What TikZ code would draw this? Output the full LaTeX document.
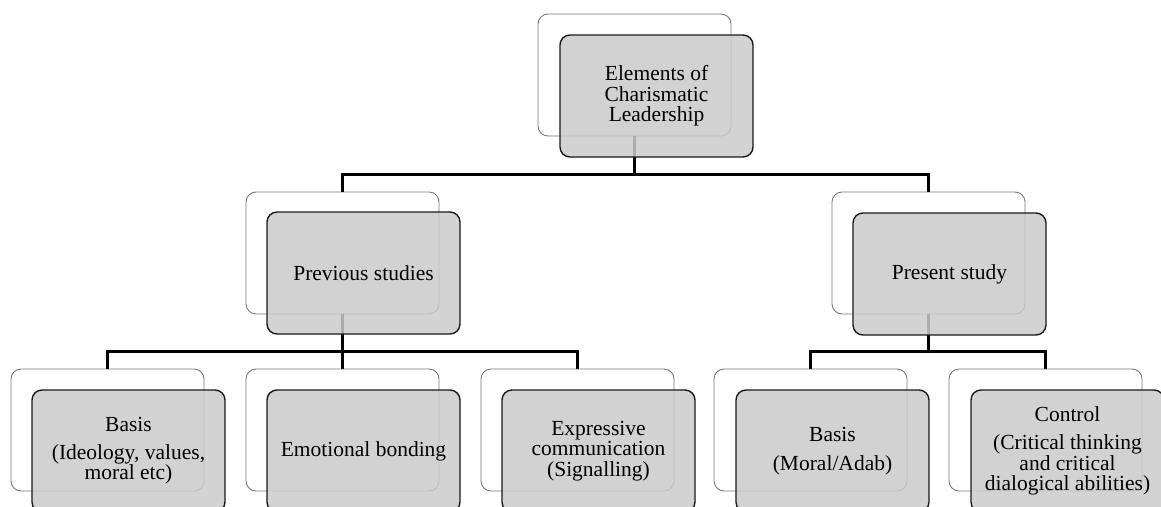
\documentclass[tikz,border=0pt]{standalone}
\usepackage{fontspec}
\setmainfont{Liberation Serif}
\definecolor{boxfill}{RGB}{203,203,203}
\definecolor{backline}{RGB}{120,120,120}
\tikzset{
  backbox/.style={draw=backline, line width=0.9pt, fill=white, rounded corners=10pt,
    minimum width=193pt, minimum height=122pt, anchor=north west, inner sep=0pt, outer sep=0pt},
  frontbox/.style={draw=black!90, line width=1.4pt, fill=boxfill, fill opacity=0.85, text opacity=1,
    rounded corners=10pt, minimum width=193pt, minimum height=122pt, anchor=north west,
    inner sep=0pt, outer sep=0pt, align=center, font=\fontsize{21.5}{20.5}\selectfont},
  conn/.style={draw=black, line width=2.5pt}
}
\begin{document}
\begin{tikzpicture}[x=1pt,y=-1pt]
\useasboundingbox (0,0) rectangle (1161,506);
\clip (0,0) rectangle (1161,506);
% back boxes
\node[backbox] (tb) at (538,14) {};
\node[backbox] (pb) at (246,192) {};
\node[backbox] (sb) at (832,192) {};
\node[backbox] (b1) at (11,369) {};
\node[backbox] (b2) at (246,369) {};
\node[backbox] (b3) at (481,369) {};
\node[backbox] (b4) at (714,369) {};
\node[backbox] (b5) at (949,369) {};
% connectors
\draw[conn] (pb.north) -- ++(0,-17.5) -| (tb.south);
\draw[conn] (sb.north) -- ++(0,-17.5) -| (tb.south);
\draw[conn] (b1.north) -- ++(0,-17.5) -| (pb.south);
\draw[conn] (b2.north) -- ++(0,-17.5) -| (pb.south);
\draw[conn] (b3.north) -- ++(0,-17.5) -| (pb.south);
\draw[conn] (b4.north) -- ++(0,-17.5) -| (sb.south);
\draw[conn] (b5.north) -- ++(0,-17.5) -| (sb.south);
% front boxes
\node[frontbox] (tf) at (560,35) {Elements of\\Charismatic\\Leadership};
\node[frontbox] (pf) at (267,212) {Previous studies};
\node[frontbox] (sf) at (853,213) {Present study};
\node[frontbox] (f1) at (32,390) {Basis\\[7pt](Ideology, values,\\moral etc)};
\node[frontbox] (f2) at (267,390) {Emotional bonding};
\node[frontbox] (f3) at (502,390) {Expressive\\communication\\(Signalling)};
\node[frontbox] (f4) at (736,390) {Basis\\[8pt](Moral/Adab)};
\node[frontbox] (f5) at (971,390) {Control\\[8pt](Critical thinking\\and critical\\dialogical abilities)};
\end{tikzpicture}
\end{document}
